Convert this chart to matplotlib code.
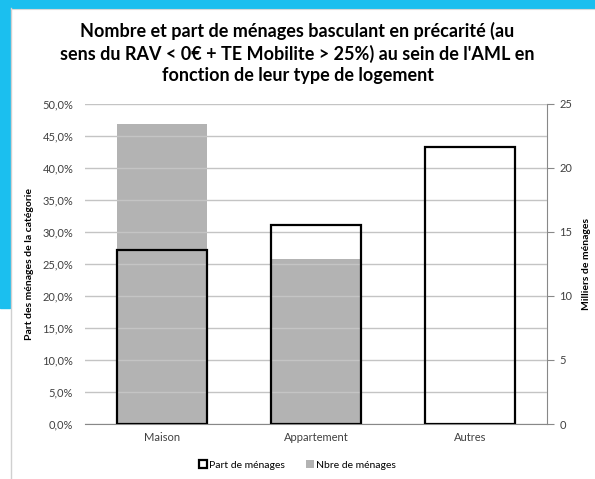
import matplotlib.pyplot as plt
from matplotlib.patches import Rectangle
from matplotlib.lines import Line2D
from matplotlib.ticker import FuncFormatter, MultipleLocator

plt.rcParams['font.family'] = ['Lato', 'DejaVu Sans']

categories = ['Maison', 'Appartement', 'Autres']
part_menages = [27.2, 31.1, 43.3]      # % des ménages de la catégorie
nbre_menages = [23.4, 12.9, 0.08]      # milliers de ménages

title = ("Nombre et part de ménages basculant en précarité (au\n"
         "sens du RAV < 0€ + TE Mobilite > 25%) au sein de l'AML en\n"
         "fonction de leur type de logement")

fig = plt.figure(figsize=(5.95, 4.79), dpi=100, facecolor='white')

# cadre bleu autour du graphique
blue = '#1bbfef'
fig.patches.append(Rectangle((0, 1 - 8 / 479), 1, 8 / 479, transform=fig.transFigure,
                             color=blue, zorder=0))
fig.patches.append(Rectangle((0, 1 - 308 / 479), 10 / 595, 308 / 479, transform=fig.transFigure,
                             color=blue, zorder=0))
fig.lines.append(Line2D([10.5 / 595, 10.5 / 595], [0, 1 - 8 / 479], transform=fig.transFigure,
                        color='#d0d0d0', lw=1))
fig.lines.append(Line2D([10.5 / 595, 1], [1 - 8.5 / 479, 1 - 8.5 / 479], transform=fig.transFigure,
                        color='#d8d8d8', lw=0.8))

ax = fig.add_axes([85 / 595, 1 - 424 / 479, 462 / 595, 320 / 479])
ax2 = ax.twinx()
ax.set_zorder(ax2.get_zorder() + 1)
ax.patch.set_visible(False)

x = range(len(categories))
ax2.bar(x, nbre_menages, width=0.58, color='#b3b3b3', edgecolor='none')
ax.bar(x, part_menages, width=0.58, facecolor='none', edgecolor='black', linewidth=1.6, zorder=3)

ax.set_xlim(-0.5, 2.5)
ax.set_ylim(0, 50)
ax2.set_ylim(0, 25)
ax.yaxis.set_major_locator(MultipleLocator(5))
ax2.yaxis.set_major_locator(MultipleLocator(5))
ax.yaxis.set_major_formatter(FuncFormatter(lambda v, p: f'{v:.1f}%'.replace('.', ',')))
ax.grid(axis='y', color='#c4c4c4', linewidth=1, zorder=1)
ax.set_axisbelow(True)

ax.set_xticks(list(x))
ax.set_xticklabels(categories, fontsize=8)
ax.tick_params(axis='x', length=0, pad=6)
ax.tick_params(axis='y', length=0, labelsize=8, pad=8.5, colors='#404040')
ax2.tick_params(axis='y', length=5, labelsize=8, pad=4, colors='#404040', color='#888888')
for lbl in ax.get_xticklabels():
    lbl.set_color('#404040')

for a in (ax, ax2):
    a.spines['top'].set_visible(False)
    a.spines['left'].set_visible(False)
ax.spines['right'].set_visible(False)
ax2.spines['bottom'].set_visible(False)
ax.spines['bottom'].set_color('#888888')
ax2.spines['right'].set_color('#888888')

ax.set_ylabel('Part des ménages de la catégorie', fontsize=7.5, fontweight='bold', labelpad=6)
ax2.set_ylabel('Milliers de ménages', fontsize=7.5, fontweight='bold', labelpad=7)

fig.text(0.5, 1 - 53 / 479, title, ha='center', va='center', fontsize=13,
         fontweight='bold', linespacing=1.3)

handles = [Rectangle((0, 0), 1, 1, facecolor='white', edgecolor='black', linewidth=1.6),
           Rectangle((0, 0), 1, 1, facecolor='#b3b3b3', edgecolor='none')]
fig.legend(handles, ['Part de ménages', 'Nbre de ménages'], loc='center',
           bbox_to_anchor=(0.5, 1 - 465 / 479), ncol=2, frameon=False, fontsize=7.5,
           handlelength=0.8, handleheight=0.8, handletextpad=0.2, columnspacing=2.0)

fig.savefig('out.png', dpi=100, facecolor=fig.get_facecolor())
